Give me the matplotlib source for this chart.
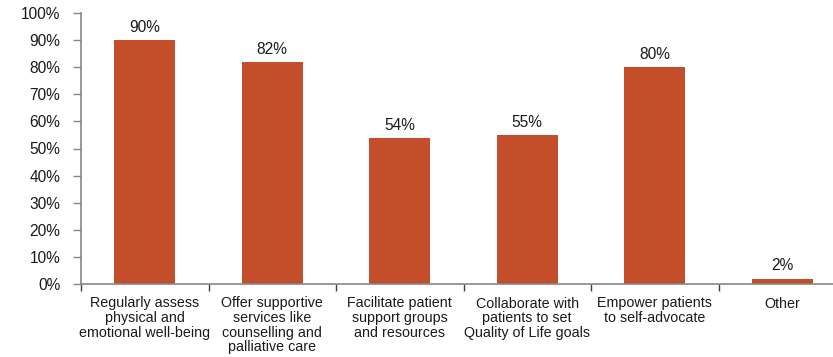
import matplotlib
matplotlib.use("Agg")
import matplotlib.pyplot as plt
import matplotlib.transforms as mtransforms
from matplotlib.ticker import FixedLocator, NullFormatter

plt.rcParams['font.family'] = ['Liberation Sans', 'DejaVu Sans']

categories = [
    "Regularly assess\nphysical and\nemotional well-being",
    "Offer supportive\nservices like\ncounselling and\npalliative care",
    "Facilitate patient\nsupport groups\nand resources",
    "Collaborate with\npatients to set\nQuality of Life goals",
    "Empower patients\nto self-advocate",
    "Other",
]
values = [90, 82, 54, 55, 80, 2]
yticks = list(range(0, 101, 10))

bar_color = "#C54E2A"
axis_color = "#868686"
text_color = "#1a1a1a"

W, H = 833, 357
fig = plt.figure(figsize=(W / 100, H / 100), dpi=100)
left, right = 81, 846
top, bottom = 13, 284
ax = fig.add_axes([left / W, 1 - bottom / H, (right - left) / W, (bottom - top) / H])

x = list(range(len(values)))
ax.bar(x, values, width=0.476, color=bar_color, zorder=2)

for xi, v in zip(x, values):
    ax.text(xi, v + 3.0, f"{v}%", ha="center", va="baseline", fontsize=11.2, color=text_color)

ax.set_xlim(-0.5, len(values) - 0.5)
ax.set_ylim(0, 100)
ax.set_yticks(yticks)
ax.set_yticklabels([f"{t}%" for t in yticks], fontsize=11.2, color=text_color)
shift = mtransforms.ScaledTranslation(0, -1.5 / 100, fig.dpi_scale_trans)
for lbl in ax.get_yticklabels():
    lbl.set_transform(lbl.get_transform() + shift)

ax.xaxis.set_major_locator(FixedLocator(x))
ax.set_xticklabels(categories, fontsize=10.3, linespacing=1.06, va="top", color=text_color)
ax.xaxis.set_minor_locator(FixedLocator([i - 0.5 for i in range(len(values) + 1)]))
ax.xaxis.set_minor_formatter(NullFormatter())
ax.tick_params(axis="x", which="major", length=0, pad=9)
ax.tick_params(axis="x", which="minor", length=5, width=1, color="#404040", direction="out")
ax.tick_params(axis="y", length=6, width=1, color=axis_color, direction="out", pad=9)

for s in ["top", "right"]:
    ax.spines[s].set_visible(False)
for s in ["left", "bottom"]:
    ax.spines[s].set_color(axis_color)
    ax.spines[s].set_linewidth(1.2)

fig.savefig("out.png", dpi=100)
